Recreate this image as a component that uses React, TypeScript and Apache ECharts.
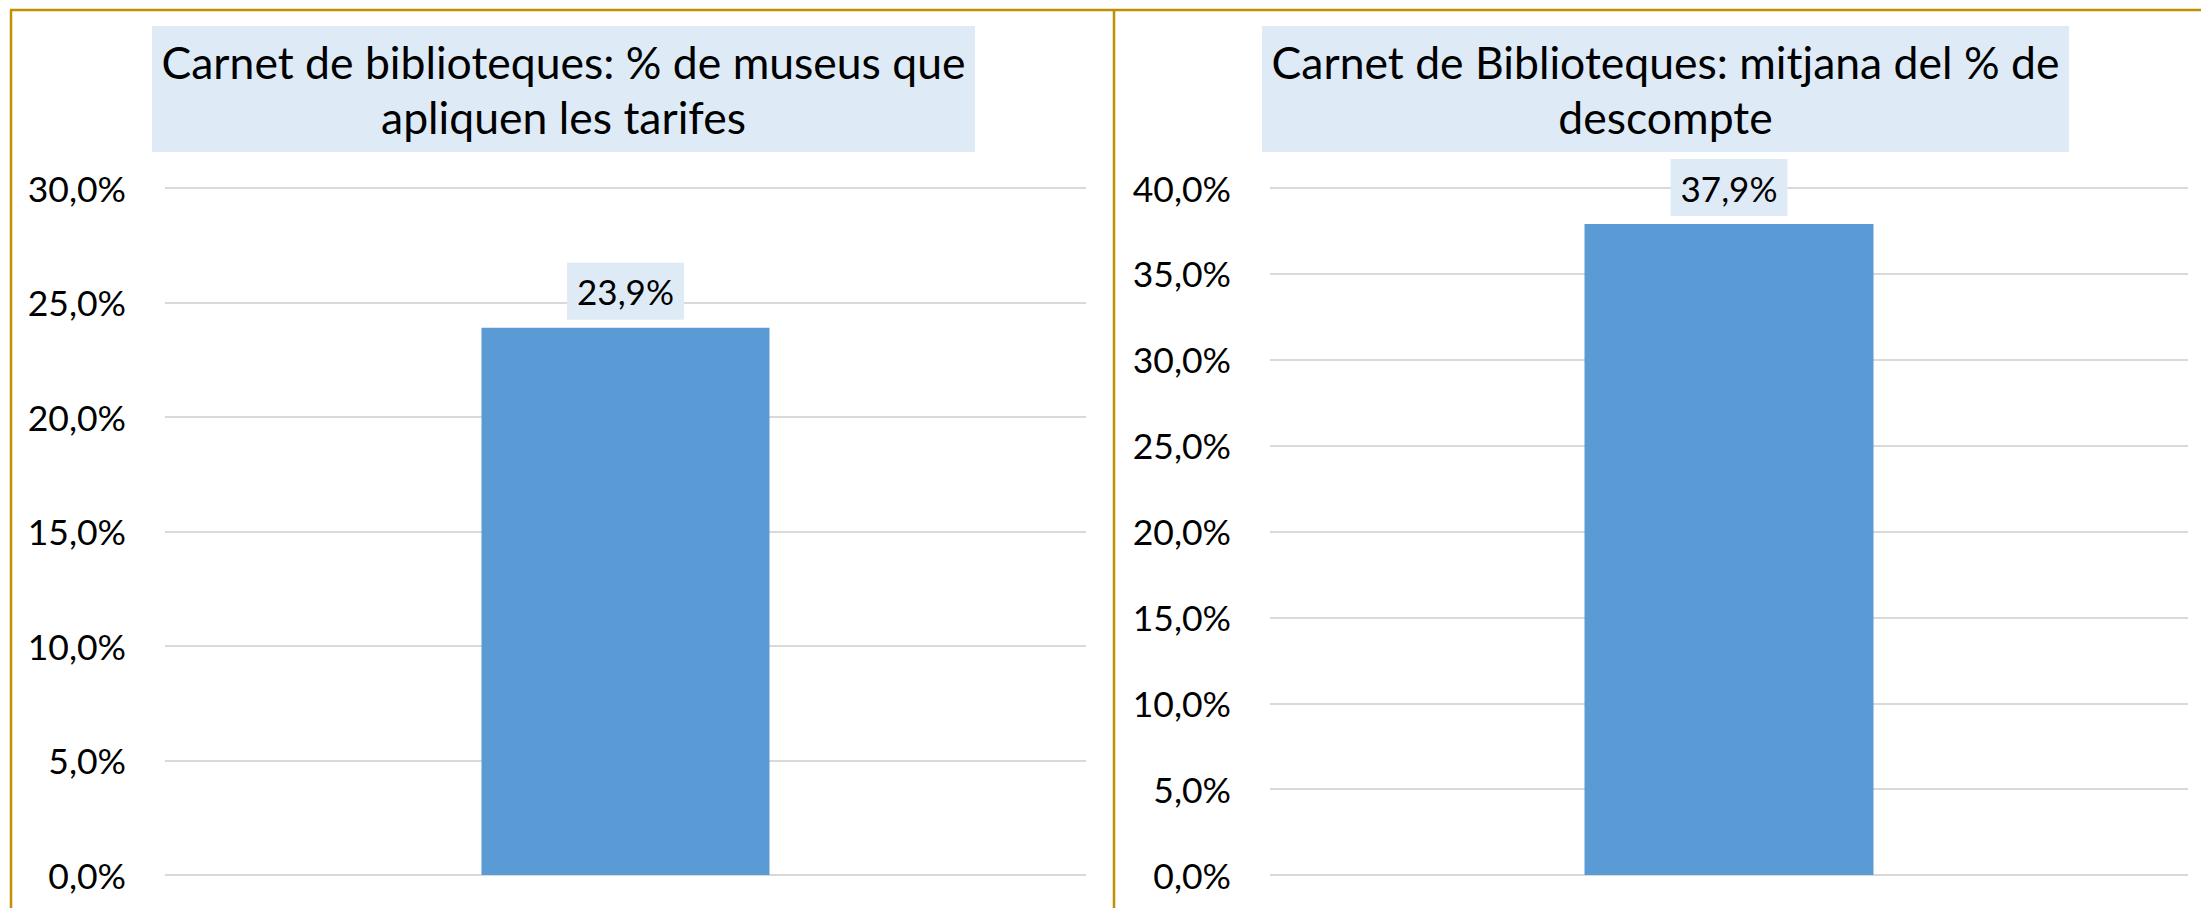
import React, { useEffect, useRef } from "react";
import * as echarts from "echarts";

const categories = [""];
const leftValues = [23.9];
const rightValues = [37.9];
const leftTitle = ["Carnet de biblioteques: % de museus que", "apliquen les tarifes"];
const rightTitle = ["Carnet de Biblioteques: mitjana del % de", "descompte"];
const leftMax = 30;
const rightMax = 40;
const tickStep = 5;

const FONT = "Lato";
const fmt = (v: number) => v.toFixed(1).replace(".", ",") + "%";

export default function App() {
  const ref = useRef<HTMLDivElement>(null);
  useEffect(() => {
    if (!ref.current) return;
    const chart = echarts.init(ref.current, undefined, { renderer: "svg" });
    const gridLine = { show: true, lineStyle: { color: "#D9D9D9", width: 2 } };
    const yAxisBase = {
      type: "value" as const,
      min: 0,
      interval: tickStep,
      axisLine: { show: false },
      axisTick: { show: false },
      splitLine: gridLine,
      axisLabel: {
        margin: 39,
        fontFamily: FONT,
        fontSize: 35.5,
        color: "#000",
        formatter: (v: number) => fmt(v),
      },
    };
    const xAxisBase = {
      type: "category" as const,
      data: categories,
      axisLine: { show: false },
      axisTick: { show: false },
      axisLabel: { show: false },
    };
    const labelBase = {
      show: true,
      position: "top" as const,
      distance: 8,
      backgroundColor: "#DEEBF7",
      padding: [8, 10],
      fontFamily: FONT,
      fontSize: 35,
      lineHeight: 41,
      color: "#000",
      formatter: (p: any) => fmt(p.value),
    };
    const border = "#BF9000";
    const titleText = (cx: number, lines: string[]) => ({
      type: "text",
      x: cx,
      y: 89,
      style: {
        text: lines.join("\n"),
        fontFamily: FONT,
        fontSize: 44.5,
        lineHeight: 55,
        fill: "#000",
        align: "center",
        verticalAlign: "middle",
      },
      z: 10,
    });
    chart.setOption({
      animation: false,
      backgroundColor: "#fff",
      grid: [
        { left: 165, right: 2201 - 1086, top: 188, bottom: 908 - 875 },
        { left: 1270, right: 2201 - 2188, top: 188, bottom: 908 - 875 },
      ],
      xAxis: [
        { ...xAxisBase, gridIndex: 0 },
        { ...xAxisBase, gridIndex: 1 },
      ],
      yAxis: [
        { ...yAxisBase, gridIndex: 0, max: leftMax },
        { ...yAxisBase, gridIndex: 1, max: rightMax },
      ],
      series: [
        {
          type: "bar",
          xAxisIndex: 0,
          yAxisIndex: 0,
          data: leftValues,
          barWidth: 288,
          itemStyle: { color: "#5B9BD5" },
          label: labelBase,
        },
        {
          type: "bar",
          xAxisIndex: 1,
          yAxisIndex: 1,
          data: rightValues,
          barWidth: 289,
          itemStyle: { color: "#5B9BD5" },
          label: labelBase,
        },
      ],
      graphic: [
        { type: "line", shape: { x1: 10, y1: 10, x2: 2201, y2: 10 }, style: { stroke: border, lineWidth: 2.5 } },
        { type: "line", shape: { x1: 11, y1: 10, x2: 11, y2: 908 }, style: { stroke: border, lineWidth: 2.5 } },
        { type: "line", shape: { x1: 1114, y1: 10, x2: 1114, y2: 908 }, style: { stroke: border, lineWidth: 2.5 } },
        { type: "rect", shape: { x: 152, y: 26, width: 823, height: 126 }, style: { fill: "#DEEBF7" }, z: 5 },
        { type: "rect", shape: { x: 1262, y: 26, width: 807, height: 126 }, style: { fill: "#DEEBF7" }, z: 5 },
        titleText(563.5, leftTitle),
        titleText(1665.5, rightTitle),
      ],
    });
    return () => chart.dispose();
  }, []);
  return (
    <div
      ref={ref}
      style={{ position: "fixed", left: 0, top: 0, width: 2201, height: 908 }}
    />
  );
}
